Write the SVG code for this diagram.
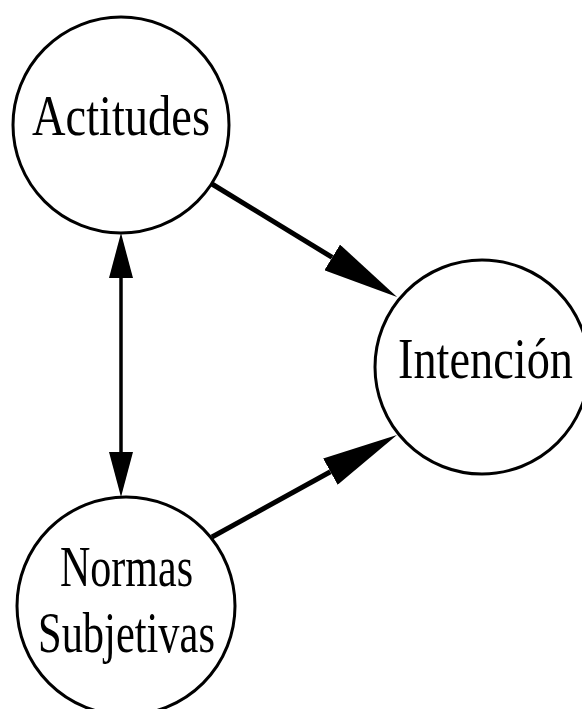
<svg xmlns="http://www.w3.org/2000/svg" width="582" height="709" viewBox="0 0 582 709">
<style>
.node{fill:#fff;stroke:#000;stroke-width:3}
.lbl{font-family:"Liberation Serif","Times New Roman",serif;font-size:57px;fill:#000;text-anchor:middle}
.con{stroke:#000;fill:none}
</style>
<defs>
<marker id="big" markerUnits="userSpaceOnUse" viewBox="0 0 76 30" markerWidth="76" markerHeight="30" refX="0" refY="15" orient="auto"><path d="M0,0 L76,15 L0,30 Z" fill="#000"/></marker>
<marker id="small" markerUnits="userSpaceOnUse" viewBox="0 0 45 24" markerWidth="45" markerHeight="24" refX="0" refY="12" orient="auto-start-reverse"><path d="M0,0 L45,12 L0,24 Z" fill="#000"/></marker>
</defs>
<rect width="582" height="709" fill="#fff"/>
<g id="connectors">
<line class="con" x1="212" y1="184" x2="332.2" y2="257.4" stroke-width="5" marker-end="url(#big)"/>
<line class="con" x1="212" y1="537" x2="330.4" y2="471.7" stroke-width="5" marker-end="url(#big)"/>
<line class="con" x1="121" y1="278" x2="121" y2="452" stroke-width="3.5" marker-start="url(#small)" marker-end="url(#small)"/>
</g>
<g id="actitudes">
<circle class="node" cx="121" cy="125" r="108"/>
<text class="lbl" x="121" y="135" textLength="178" lengthAdjust="spacingAndGlyphs">Actitudes</text>
</g>
<g id="intencion">
<circle class="node" cx="482" cy="367" r="107"/>
<text class="lbl" x="485.5" y="378" textLength="175" lengthAdjust="spacingAndGlyphs">Intención</text>
</g>
<g id="normas">
<circle class="node" cx="126" cy="606" r="109"/>
<text class="lbl" x="126.5" y="586" textLength="133" lengthAdjust="spacingAndGlyphs">Normas</text>
<text class="lbl" x="126.5" y="652" textLength="177" lengthAdjust="spacingAndGlyphs">Subjetivas</text>
</g>
</svg>
